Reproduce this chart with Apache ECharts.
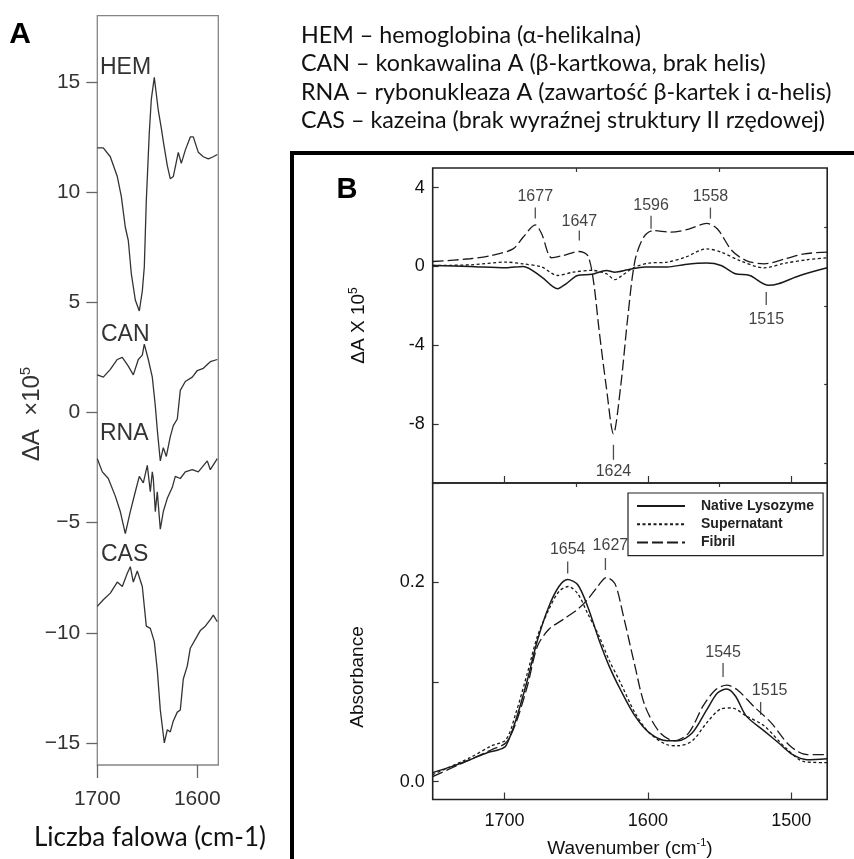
<!DOCTYPE html>
<html>
<head>
<meta charset="utf-8">
<script src="https://cdn.jsdelivr.net/npm/echarts@6/dist/echarts.min.js"></script>
<style>
html, body { margin: 0; padding: 0; background: #fff; }
#chart { width: 854px; height: 859px; }
</style>
</head>
<body>
<div id="chart"></div>
<script>
// ---- panel A: difference spectra (ΔA x 10^5) ----
const wnHEM = [1700,1694,1687,1680,1676,1672,1669,1666,1662,1658,1655,1653,1651,1648,1646,1643,1639,1636,1634,1630,1627,1624,1619,1616,1612,1607,1604,1599,1594,1589,1584,1580]
const hem = [12.0,12.0,11.6,10.7,9.8,8.4,7.8,6.3,5.1,4.6,5.5,6.6,9.6,12.7,14.2,15.2,13.7,12.9,12.3,11.2,10.6,10.7,11.8,11.3,11.9,12.5,12.5,11.8,11.6,11.5,11.6,11.7]

const wnCAN = [1700,1694,1687,1680,1675,1669,1664,1659,1655,1653,1649,1645,1642,1640,1637,1634,1631,1627,1624,1620,1617,1612,1605,1600,1594,1587,1580]
const can = [1.7,1.6,1.95,2.4,2.5,2.1,1.7,2.4,2.6,3.1,2.4,1.6,0.3,-0.8,-2.2,-1.6,-2.0,-1.1,-0.6,-0.3,1.0,1.4,1.6,1.9,2.0,2.3,2.4]

const wnRNA = [1700,1695,1689,1682,1677,1672,1667,1662,1658,1654,1650,1647,1645,1644,1642,1640,1637,1634,1630,1625,1622,1617,1612,1605,1599,1590,1587,1580]
const rna = [-2.1,-2.7,-3.0,-3.8,-4.5,-5.5,-4.5,-3.6,-2.9,-3.2,-2.4,-3.6,-2.7,-3.0,-4.5,-3.6,-5.3,-4.5,-3.9,-3.4,-2.9,-3.0,-2.7,-2.6,-2.7,-2.2,-2.6,-2.1]

const wnCAS = [1700,1694,1687,1680,1675,1670,1667,1664,1660,1655,1651,1647,1643,1640,1637,1633,1630,1627,1624,1620,1617,1614,1610,1607,1602,1597,1592,1587,1584,1580]
const cas = [-8.8,-8.5,-8.2,-7.7,-7.9,-7.3,-7.0,-7.7,-7.2,-7.9,-9.7,-9.8,-10.4,-11.7,-13.5,-15.0,-14.4,-14.5,-14.0,-13.6,-13.5,-12.1,-11.5,-10.7,-10.3,-9.9,-9.7,-9.4,-9.2,-9.5]

const curveNamesA = ['HEM', 'CAN', 'RNA', 'CAS']
const descLines = [
    'HEM – hemoglobina (α-helikalna)',
    'CAN – konkawalina A (β-kartkowa, brak helis)',
    'RNA – rybonukleaza A (zawartość β-kartek i α-helis)',
    'CAS – kazeina (brak wyraźnej struktury II rzędowej)'
]

// ---- panel B top: difference spectra ----
const wnNatT = [1750,1724,1699,1687,1674,1663,1657,1649,1639,1629,1623,1614,1602,1586.5,1574,1559,1549,1539,1529,1516,1509,1494,1475]
const natT = [0.05,0,-0.07,0,-0.54,-1.13,-0.88,-0.46,-0.40,-0.20,-0.29,-0.17,-0.03,-0.03,0.10,0.17,0.05,-0.37,-0.46,-0.96,-0.88,-0.46,-0.07]

const wnSupT = [1750,1724,1699,1687,1674,1663,1652,1639,1629,1623,1618,1609,1599,1586.5,1574,1559,1549,1536,1519,1504,1489,1475]
const supT = [0.05,0.08,0.22,0.13,-0.03,-0.46,-0.29,-0.20,-0.37,-0.67,-0.46,-0.03,0.17,0.22,0.47,0.89,0.73,0.30,-0.07,0.17,0.34,0.44]

const wnFibT = [1750,1724,1709,1694,1687,1678.5,1674,1667,1659,1648,1642,1638,1634,1629,1624,1619,1614,1609,1603,1596.5,1584,1571.5,1559,1551.5,1541.5,1531.5,1519,1504,1491,1475]
const fibT = [0.25,0.39,0.56,0.89,1.48,2.11,1.65,0.44,0.56,0.76,0.56,-0.71,-3.24,-6.11,-8.5,-6.11,-2.57,0.30,1.48,1.82,1.74,1.90,2.19,1.90,0.81,0.30,0.13,0.39,0.64,0.73]

// ---- panel B bottom: absorbance ----
const wnNatB = [1750,1737,1724,1712,1704,1699,1692,1684,1677,1669,1662,1656,1649,1642,1634,1627,1619,1609,1599,1586.5,1579,1569,1559,1551.5,1545,1539,1531.5,1519,1509,1499,1489,1475]
const natB = [0.009,0.015,0.022,0.029,0.032,0.036,0.062,0.102,0.142,0.176,0.196,0.203,0.198,0.176,0.142,0.116,0.092,0.066,0.049,0.041,0.041,0.049,0.072,0.089,0.093,0.086,0.066,0.051,0.039,0.027,0.022,0.023]

const wnSupB = [1750,1724,1709,1699,1692,1684,1677,1669,1662,1655.5,1649,1642,1634,1627,1619,1609,1599,1586.5,1579,1569,1559,1549,1541.5,1531.5,1519,1504,1491,1475]
const supB = [0.007,0.024,0.036,0.042,0.069,0.109,0.146,0.173,0.191,0.196,0.189,0.169,0.146,0.122,0.099,0.069,0.049,0.037,0.036,0.041,0.059,0.073,0.074,0.066,0.056,0.034,0.020,0.019]

const wnFibB = [1750,1724,1709,1699,1692,1684,1677,1669,1659,1649,1642,1635,1629,1623,1617,1609,1602,1591.5,1581.5,1571.5,1561.5,1553,1545,1537.5,1526.5,1514,1501,1489,1475]
const fibB = [0.005,0.022,0.032,0.039,0.059,0.096,0.136,0.153,0.163,0.173,0.183,0.196,0.205,0.199,0.166,0.116,0.076,0.049,0.041,0.049,0.076,0.092,0.097,0.092,0.076,0.059,0.036,0.027,0.027]

const seriesNamesB = ['Native Lysozyme', 'Supernatant', 'Fibril']

// peak annotations (label, wavenumber, value at the end of the tick)
const peakTopNames = ['1677', '1647', '1596', '1558', '1515', '1624']
const peakTopX = [1678.5, 1647.8, 1597.8, 1556.4, 1517.5, 1624]
const peakTopY = [2.43, 1.32, 1.92, 2.43, -1.30, -9.06]

const peakBotNames = ['1654', '1627', '1545', '1515']
const peakBotX = [1655.9, 1629.6, 1547.6, 1521.4]
const peakBotY = [0.209, 0.2126, 0.105, 0.067]

// tick labels
const ticksA_y = [-15, -10, -5, 0, 5, 10, 15]
const ticksA_x = [1700, 1600]
const ticksB_x = [1700, 1600, 1500]
const minorB_x = [1650, 1550]
const ticksBT_y = [-8, -4, 0, 4]
const minorBT_y = [-10, -6, -2, 2]
const ticksBB_y = [0, 0.1, 0.2, 0.3]
const labelsBB_y = [0, 0.2]

// ---- styles (not data) ----
const FONT = '"Liberation Sans", Arial, sans-serif'
const FONT_PL = 'Lato, "Noto Sans", sans-serif'
const peakTopStyle = [
    { dir: 'up', len: 11, dist: 3 },
    { dir: 'up', len: 10, dist: 1 },
    { dir: 'up', len: 13, dist: 2 },
    { dir: 'up', len: 11, dist: 3 },
    { dir: 'down', len: 13, dist: 7 },
    { dir: 'down', len: 15, dist: 4 },
]
const peakBotStyle = [
    { dir: 'up', len: 12, dist: 4 },
    { dir: 'up', len: 12, dist: 4, off: [5, 0] },
    { dir: 'up', len: 14, dist: 2 },
    { dir: 'up', len: 13, dist: 3, off: [9, 0] },
]
const lineStylesB = [
    { color: '#1a1a1a', width: 1.5, type: 'solid' },
    { color: '#1a1a1a', width: 1.3, type: [3, 2.5] },
    { color: '#1a1a1a', width: 1.3, type: [11, 4] },
]

function pairs(xs, ys) {
    return xs.map((x, i) => [x, ys[i]])
}

function minusSign(v) {
    return v < 0 ? '\u2212' + Math.abs(v) : String(v)
}

function plain(v) {
    return String(v)
}

function lineSeries(name, xs, ys, axis, style, smooth) {
    return {
        name: name,
        type: 'line',
        xAxisIndex: axis,
        yAxisIndex: axis,
        data: pairs(xs, ys),
        symbol: 'none',
        showSymbol: false,
        smooth: smooth,
        lineStyle: style,
        itemStyle: { color: style.color },
        silent: true,
        animation: false,
    }
}

function peakSeries(names, xs, ys, styles, axis) {
    return {
        type: 'scatter',
        xAxisIndex: axis,
        yAxisIndex: axis,
        silent: true,
        animation: false,
        z: 5,
        data: names.map((n, i) => {
            let s = styles[i]
            let up = s.dir === 'up'
            return {
                value: [xs[i], ys[i]],
                symbol: 'rect',
                symbolSize: [1.3, s.len],
                symbolOffset: [0, up ? -s.len / 2 : s.len / 2],
                itemStyle: { color: '#222' },
                label: {
                    show: true,
                    formatter: n,
                    position: up ? 'top' : 'bottom',
                    distance: s.dist,
                    offset: s.off || [0, 0],
                    fontSize: 16,
                    fontFamily: FONT,
                    color: '#111',
                },
            }
        }),
    }
}

const gridA = { left: 97.3, top: 15.7, width: 121, height: 749.3 }
const gridBT = { left: 432.7, top: 168, width: 394.5, height: 315 }
const gridBB = { left: 432.7, top: 483, width: 394.5, height: 317 }

function bxAxis(grid, ticks, len, labels) {
    return {
        type: 'value', gridIndex: grid, min: 1475, max: 1750, inverse: true,
        axisLine: { show: false, onZero: false },
        splitLine: { show: false },
        axisTick: { inside: true, length: len, customValues: ticks, lineStyle: { color: '#333', width: 1.2 } },
        axisLabel: labels ? { customValues: labels, fontSize: 18, fontFamily: FONT, color: '#111', margin: 13, formatter: plain } : { show: false },
    }
}

const chart = echarts.init(document.getElementById('chart'), null, { renderer: 'canvas' })

let options = {
    backgroundColor: '#fff',
    animation: false,
    grid: [
        Object.assign({ show: true, borderColor: '#858585', borderWidth: 1.3 }, gridA),
        Object.assign({ show: true, borderColor: '#222', borderWidth: 1.6 }, gridBT),
        Object.assign({ show: true, borderColor: '#222', borderWidth: 1.6 }, gridBB),
    ],
    legend: {
        data: seriesNamesB,
        orient: 'vertical',
        left: 628,
        top: 493,
        itemWidth: 48,
        itemHeight: 14,
        itemGap: 4.3,
        padding: [6, 9, 6, 8],
        borderColor: '#222',
        borderWidth: 1.2,
        backgroundColor: '#fff',
        selectedMode: false,
        itemStyle: { opacity: 0 },
        textStyle: { fontSize: 14, fontWeight: 'bold', fontFamily: FONT, color: '#222', padding: [0, 0, 0, 11] },
    },
    xAxis: [
        {
            type: 'value', gridIndex: 0, min: 1579, max: 1700, inverse: true,
            axisLine: { show: false, onZero: false },
            splitLine: { show: false },
            axisTick: { inside: false, length: 13, customValues: ticksA_x, lineStyle: { color: '#666', width: 1.3 } },
            axisLabel: { customValues: ticksA_x, fontSize: 21, fontFamily: FONT, color: '#333', margin: 24, formatter: plain },
        },
        bxAxis(1, ticksB_x, 7, null),
        bxAxis(1, minorB_x, 4, null),
        Object.assign(bxAxis(2, ticksB_x, 7, ticksB_x), {
            name: 'Wavenumber (cm{s|-1})',
            nameLocation: 'middle',
            nameGap: 38,
            nameTextStyle: {
                fontSize: 19, fontFamily: FONT, color: '#111',
                rich: { s: { fontSize: 11, fontFamily: FONT, color: '#111', verticalAlign: 'top', lineHeight: 22 } },
            },
        }),
        bxAxis(2, minorB_x, 4, null),
    ],
    yAxis: [
        {
            type: 'value', gridIndex: 0, min: -16, max: 18,
            axisLine: { show: false, onZero: false },
            splitLine: { show: false },
            axisTick: { inside: false, length: 11, customValues: ticksA_y, lineStyle: { color: '#666', width: 1.3 } },
            axisLabel: { customValues: ticksA_y, fontSize: 21, fontFamily: FONT, color: '#333', margin: 17, formatter: minusSign },
        },
        {
            type: 'value', gridIndex: 1, min: -11, max: 5,
            axisLine: { show: false, onZero: false },
            splitLine: { show: false },
            axisTick: { inside: true, length: 6, customValues: ticksBT_y, lineStyle: { color: '#333', width: 1.2 } },
            axisLabel: { customValues: ticksBT_y, fontSize: 18, fontFamily: FONT, color: '#111', margin: 8 },
            name: '{b|ΔA X 10}{s|5}',
            nameLocation: 'middle',
            nameRotate: 90,
            nameGap: 63,
            nameTextStyle: {
                rich: {
                    b: { fontSize: 19, fontFamily: FONT, color: '#111', lineHeight: 22 },
                    s: { fontSize: 12, fontFamily: FONT, color: '#111', verticalAlign: 'top', lineHeight: 22 },
                },
            },
        },
        {
            type: 'value', gridIndex: 1, min: -11, max: 5,
            axisLine: { show: false, onZero: false },
            splitLine: { show: false },
            axisTick: { inside: true, length: 3, customValues: minorBT_y, lineStyle: { color: '#333', width: 1.2 } },
            axisLabel: { show: false },
        },
        {
            type: 'value', gridIndex: 2, min: -0.018, max: 0.30,
            axisLine: { show: false, onZero: false },
            splitLine: { show: false },
            axisTick: { inside: true, length: 6, customValues: ticksBB_y, lineStyle: { color: '#333', width: 1.2 } },
            axisLabel: { customValues: labelsBB_y, fontSize: 18, fontFamily: FONT, color: '#111', margin: 8,
                formatter: (v) => v.toFixed(1) },
        },
    ],
    series: [],
    graphic: [],
}

// panel A curves
const styleA = { color: '#333', width: 1.3, type: 'solid' }
options.series.push(lineSeries('HEM', wnHEM, hem, 0, styleA, false))
options.series.push(lineSeries('CAN', wnCAN, can, 0, styleA, false))
options.series.push(lineSeries('RNA', wnRNA, rna, 0, styleA, false))
options.series.push(lineSeries('CAS', wnCAS, cas, 0, styleA, false))

// panel B curves
const topSets = [[wnNatT, natT], [wnSupT, supT], [wnFibT, fibT]]
const botSets = [[wnNatB, natB], [wnSupB, supB], [wnFibB, fibB]]
seriesNamesB.forEach((n, i) => {
    options.series.push(lineSeries(n, topSets[i][0], topSets[i][1], 1, lineStylesB[i], 0.3))
})
seriesNamesB.forEach((n, i) => {
    options.series.push(lineSeries(n, botSets[i][0], botSets[i][1], 3, lineStylesB[i], 0.3))
})
options.series.push(peakSeries(peakTopNames, peakTopX, peakTopY, peakTopStyle, 1))
options.series.push(peakSeries(peakBotNames, peakBotX, peakBotY, peakBotStyle, 3))

// free texts and the frame around panel B
const curveLabelPos = [[100, 68], [101, 335], [100, 434], [101, 555]]
curveNamesA.forEach((n, i) => {
    options.graphic.push({ type: 'text', x: curveLabelPos[i][0], y: curveLabelPos[i][1],
        style: { text: n, font: '23px ' + FONT, fill: '#333', verticalAlign: 'middle' } })
})
descLines.forEach((t, i) => {
    options.graphic.push({ type: 'text', x: 301, y: 35 + i * 28.5,
        style: { text: t, font: '23.3px ' + FONT_PL, fill: '#111', verticalAlign: 'middle' } })
})
options.graphic.push(
    { type: 'text', x: 20, y: 35, style: { text: 'A', font: 'bold 30px ' + FONT, fill: '#000', align: 'center', verticalAlign: 'middle' } },
    { type: 'text', x: 347, y: 190, style: { text: 'B', font: 'bold 29px ' + FONT, fill: '#000', align: 'center', verticalAlign: 'middle' } },
    { type: 'text', x: 32, y: 414, rotation: Math.PI / 2,
        style: { text: '{b|ΔA  ×10}{s|5}', align: 'center', verticalAlign: 'middle',
            rich: { b: { font: '24px ' + FONT, fill: '#333', lineHeight: 28 },
                s: { font: '15px ' + FONT, fill: '#333', verticalAlign: 'top', lineHeight: 28 } } } },
    { type: 'text', x: 150, y: 838,
        style: { text: 'Liczba falowa (cm-1)', font: '26px ' + FONT_PL, fill: '#111', align: 'center', verticalAlign: 'middle' } },
    { type: 'text', x: 358, y: 677, rotation: Math.PI / 2,
        style: { text: 'Absorbance', font: '19px ' + FONT, fill: '#111', align: 'center', verticalAlign: 'middle' } },
    { type: 'line', shape: { x1: 290, y1: 153, x2: 854, y2: 153 }, style: { stroke: '#000', lineWidth: 4 } },
    { type: 'line', shape: { x1: 292, y1: 151, x2: 292, y2: 859 }, style: { stroke: '#000', lineWidth: 4 } }
)

chart.setOption(options)
</script>
</body>
</html>
